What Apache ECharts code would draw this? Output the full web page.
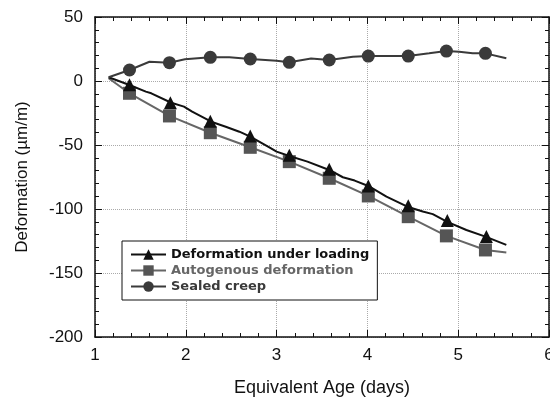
<!DOCTYPE html>
<html>
<head>
<meta charset="utf-8">
<script src="https://cdn.jsdelivr.net/npm/echarts@6/dist/echarts.min.js"></script>
<style>
  html, body { margin: 0; padding: 0; background: #fff; }
  #chart { width: 550px; height: 400px; }
</style>
</head>
<body>
<div id="chart"></div>
<script>
// curves: [age (days), deformation (µm/m)]
const loadingLine = [
  [1.15, 2.9], [1.38, -3.1], [1.56, -8.3], [1.62, -9.6], [1.84, -17], [1.98, -20],
  [2.07, -24], [2.28, -31.8], [2.44, -35.7], [2.59, -39.6], [2.71, -43.5], [2.92, -51.8],
  [3.0, -55.2], [3.14, -58.6], [3.34, -63], [3.58, -69.5], [3.73, -75.2], [3.86, -77.8],
  [4.01, -82], [4.21, -90.4], [4.44, -98.2], [4.61, -102], [4.72, -104], [4.88, -110],
  [5.09, -116.4], [5.30, -121.6], [5.53, -128]
];
const loadingMarks = [
  [1.38, -3], [1.83, -17], [2.27, -31.5], [2.71, -43], [3.14, -58],
  [3.58, -69], [4.01, -82], [4.45, -97.5], [4.88, -109], [5.31, -121.5]
];

const autoLine = [
  [1.15, 2.1], [1.38, -9.6], [1.82, -27.3], [2.27, -40.4], [2.71, -51.8], [3.14, -63],
  [3.58, -76], [4.01, -89.8], [4.45, -106], [4.87, -121], [5.30, -132], [5.53, -134]
];
const autoMarks = [
  [1.38, -9.6], [1.82, -27.3], [2.27, -40.4], [2.71, -51.8], [3.14, -63],
  [3.58, -76], [4.01, -89.8], [4.45, -106], [4.87, -121], [5.30, -132]
];

const creepLine = [
  [1.15, 2.9], [1.38, 8.6], [1.60, 15], [1.82, 14.3], [1.99, 17], [2.27, 18.5],
  [2.48, 18.5], [2.71, 17.2], [3.0, 15.9], [3.14, 14.6], [3.38, 17.5], [3.58, 16.4],
  [3.84, 19], [4.01, 19.5], [4.45, 19.5], [4.68, 21.6], [4.87, 23.4], [5.01, 22.9],
  [5.16, 21.6], [5.30, 21.6], [5.53, 17.7]
];
const creepMarks = [
  [1.38, 8.6], [1.82, 14.3], [2.27, 18.5], [2.71, 17.2], [3.14, 14.6],
  [3.58, 16.4], [4.01, 19.5], [4.45, 19.5], [4.87, 23.4], [5.30, 21.6]
];

const names = ['Deformation under loading', 'Autogenous deformation', 'Sealed creep'];

const font = 'Liberation Sans, Arial, sans-serif';
const chart = echarts.init(document.getElementById('chart'), null, { renderer: 'canvas' });

const frameAxis = (pos, min, max, interval) => ({
  type: 'value', position: pos, min: min, max: max, interval: interval,
  axisLine: { show: true, onZero: false, lineStyle: { color: '#111', width: 1.5 } },
  axisTick: { show: true, inside: true, length: 7, lineStyle: { color: '#111' } },
  minorTick: { show: true, splitNumber: 5, length: 4, lineStyle: { color: '#111' } },
  axisLabel: { show: false },
  splitLine: { show: false }
});

const xMain = Object.assign(frameAxis('bottom', 1, 6, 1), {
  name: 'Equivalent Age (days)', nameLocation: 'middle', nameGap: 42,
  nameTextStyle: { fontFamily: font, fontSize: 18, color: '#111' },
  axisLabel: { show: true, fontFamily: font, fontSize: 17, color: '#111', margin: 10 },
  splitLine: { show: true, lineStyle: { color: '#aaa', type: 'dotted', width: 1 } }
});
const yMain = Object.assign(frameAxis('left', -200, 50, 50), {
  name: 'Deformation (µm/m)', nameLocation: 'middle', nameGap: 64,
  nameTextStyle: { fontFamily: font, fontSize: 17, color: '#111' },
  axisLabel: { show: true, fontFamily: font, fontSize: 17, color: '#111', margin: 12 },
  splitLine: { show: true, lineStyle: { color: '#aaa', type: 'dotted', width: 1 } }
});

chart.setOption({
  animation: false,
  backgroundColor: '#fff',
  grid: { left: 95, right: 1, top: 17, bottom: 63, outerBoundsMode: 'none' },
  xAxis: [xMain, frameAxis('top', 1, 6, 1)],
  yAxis: [yMain, frameAxis('right', -200, 50, 50)],
  legend: {
    orient: 'vertical', left: 122, top: 241,
    padding: [7, 8, 7, 8], itemGap: 3,
    itemWidth: 35, itemHeight: 13,
    borderColor: '#111', borderWidth: 1, backgroundColor: '#fff',
    textStyle: { fontFamily: 'DejaVu Sans, sans-serif', fontSize: 13, fontWeight: 'bold' },
    data: [
      { name: names[0], textStyle: { color: '#111' } },
      { name: names[1], textStyle: { color: '#666' } },
      { name: names[2], textStyle: { color: '#3a3a3a' } }
    ]
  },
  series: [
    {
      name: names[0], type: 'line', data: loadingLine, showSymbol: false,
      symbol: 'triangle', symbolSize: 13, z: 4,
      lineStyle: { color: '#111', width: 2 }, itemStyle: { color: '#111' }
    },
    {
      name: 'loading-marks', type: 'scatter', data: loadingMarks,
      symbol: 'triangle', symbolSize: 13, z: 5, itemStyle: { color: '#111', opacity: 1 }
    },
    {
      name: names[1], type: 'line', data: autoLine, showSymbol: false,
      symbol: 'rect', symbolSize: 13, z: 3,
      lineStyle: { color: '#666', width: 2 }, itemStyle: { color: '#555' }
    },
    {
      name: 'auto-marks', type: 'scatter', data: autoMarks,
      symbol: 'rect', symbolSize: 13, z: 3, itemStyle: { color: '#555', opacity: 1 }
    },
    {
      name: names[2], type: 'line', data: creepLine, showSymbol: false,
      symbol: 'circle', symbolSize: 13, z: 4,
      lineStyle: { color: '#3a3a3a', width: 2 }, itemStyle: { color: '#3a3a3a' }
    },
    {
      name: 'creep-marks', type: 'scatter', data: creepMarks,
      symbol: 'circle', symbolSize: 13, z: 5, itemStyle: { color: '#3a3a3a', opacity: 1 }
    }
  ]
});
</script>
</body>
</html>
